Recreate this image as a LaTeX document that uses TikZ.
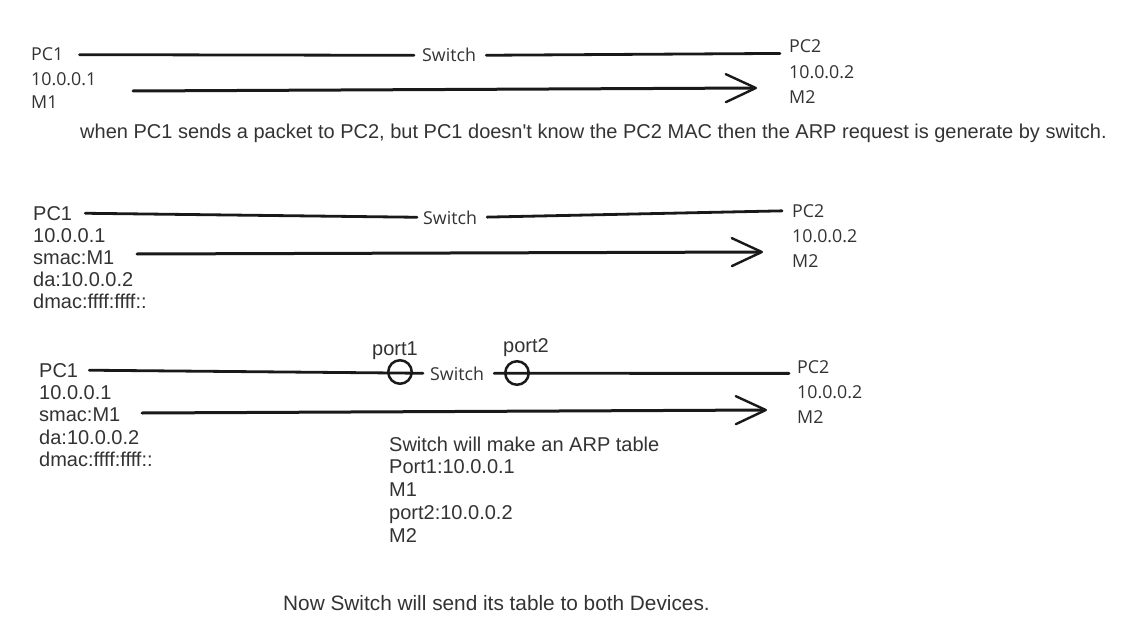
\documentclass[tikz,border=0pt]{standalone}
\usepackage{fontspec}
\setmainfont{Liberation Sans}
\newfontfamily\segfont{Open Sans}
\usetikzlibrary{arrows.meta}

\begin{document}
\begin{tikzpicture}[x=1pt, y=-1pt,
    every node/.style={inner sep=0pt, anchor=base west, text=black!80},
    seg/.style={font=\segfont\fontsize{17.8}{21}\selectfont},
    ari/.style={font=\fontsize{20}{23}\selectfont},
    wire/.style={line width=2.8pt, draw=black!90, line cap=round},
    sendarrow/.style={line width=3pt, draw=black!90, line cap=round,
        -{Straight Barb[length=30pt, width=28pt, line width=2.4pt, round]}},
    portring/.style={circle, draw=black!90, line width=2.5pt, minimum size=23.5pt, anchor=center}]
    \fill[white] (0,0) rectangle (1136,642);
    \useasboundingbox (0,0) rectangle (1136,642);

    % first case: PC1 -- Switch -- PC2
    \node[seg] (pc1a) at (31,61) {PC1};
    \foreach \t [count=\i] in {10.0.0.1, M1}
        \node[seg] (pc1a\i) at (31, 61+24*\i) {\t};
    \node[seg] (swa) at (422,62) {Switch};
    \node[seg] (pc2a) at (789,53) {PC2};
    \foreach \t [count=\i] in {10.0.0.2, M2}
        \node[seg] (pc2a\i) at (789, 53+25*\i) {\t};
    \draw[wire, shorten <=16pt, shorten >=8pt] (pc1a.east) -- (swa.west);
    \draw[wire, shorten <=10pt, shorten >=9pt] (swa.east) -- (pc2a.south west);
    \coordinate (fromA) at (133,91);
    \coordinate (toA) at (757,88);
    \draw[sendarrow] (fromA) -- (toA);

    \node[ari] (notea) at (80,139) {when PC1 sends a packet to PC2, but PC1 doesn\textquotesingle t know the PC2 MAC then the ARP request is generate by switch.};

    % second case: the ARP request
    \node[ari] (pc1b) at (33,220) {PC1};
    \foreach \t [count=\i] in {10.0.0.1, smac:M1, da:10.0.0.2, dmac:ffff:ffff::}
        \node[ari] (pc1b\i) at (33, 220+22.2*\i) {\t};
    \node[seg] (swb) at (423,224) {Switch};
    \node[seg] (pc2b) at (792,217) {PC2};
    \foreach \t [count=\i] in {10.0.0.2, M2}
        \node[seg] (pc2b\i) at (792, 217+25*\i) {\t};
    \draw[wire, shorten <=13pt, shorten >=6pt] (pc1b.east) -- (swb.west);
    \draw[wire, shorten <=10pt, shorten >=10pt] (swb.east) -- (pc2b.west);
    \coordinate (fromB) at (137,254);
    \coordinate (toB) at (763,252);
    \draw[sendarrow] (fromB) -- (toB);

    % third case: switch ports and ARP table
    \node[ari] (pc1c) at (39,377) {PC1};
    \foreach \t [count=\i] in {10.0.0.1, smac:M1, da:10.0.0.2, dmac:ffff:ffff::}
        \node[ari] (pc1c\i) at (39, 377+22.4*\i) {\t};
    \node[ari] (port1) at (372,355) {port1};
    \node[ari] (port2) at (503,352) {port2};
    \node[seg] (swc) at (430,380) {Switch};
    \node[seg] (pc2c) at (797,373) {PC2};
    \foreach \t [count=\i] in {10.0.0.2, M2}
        \node[seg] (pc2c\i) at (797, 373+25*\i) {\t};
    \draw[wire, shorten <=11pt, shorten >=7pt] (pc1c.east) -- (swc.west);
    \draw[wire, shorten <=10pt, shorten >=8pt] (swc.east) -- (pc2c.south west);
    \node[portring] (ringa) at (400,372) {};
    \node[portring] (ringb) at (517,373) {};
    \coordinate (fromC) at (142,413);
    \coordinate (toC) at (767,410);
    \draw[sendarrow] (fromC) -- (toC);
    \foreach \t [count=\i] in {Switch will make an ARP table, Port1:10.0.0.1, M1, port2:10.0.0.2, M2}
        \node[ari] (arp\i) at (389, 428.5+22.7*\i) {\t};

    \node[ari, font=\fontsize{20.8}{23}\selectfont] (notec) at (283,610) {Now Switch will send its table to both Devices.};
\end{tikzpicture}
\end{document}
